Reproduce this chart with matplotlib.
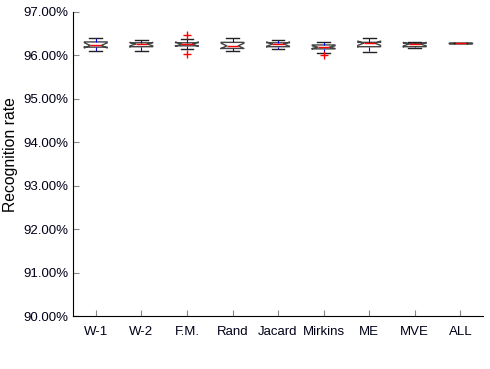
import matplotlib
matplotlib.use('Agg')
import matplotlib.pyplot as plt
from matplotlib.ticker import FuncFormatter

plt.rcParams['font.family'] = ['Liberation Sans', 'DejaVu Sans']

# per-method box statistics (recognition rate, %)
methods = ['W-1', 'W-2', 'F.M.', 'Rand', 'Jacard', 'Mirkins', 'ME', 'MVE', 'ALL']
whis_hi = [96.40, 96.36, 96.37, 96.39, 96.36, 96.30, 96.39, 96.30, 96.28]
q3 = [96.31, 96.29, 96.29, 96.30, 96.29, 96.24, 96.30, 96.28, 96.28]
medians = [96.23, 96.26, 96.26, 96.22, 96.26, 96.19, 96.28, 96.26, 96.28]
q1 = [96.19, 96.20, 96.22, 96.16, 96.20, 96.15, 96.20, 96.20, 96.28]
whis_lo = [96.10, 96.10, 96.15, 96.10, 96.14, 96.05, 96.07, 96.16, 96.28]
notch_lo = [96.17, 96.22, 96.21, 96.16, 96.21, 96.16, 96.23, 96.22, 96.28]
notch_hi = [96.29, 96.30, 96.31, 96.28, 96.31, 96.22, 96.33, 96.30, 96.28]
outliers = [[], [], [96.48, 96.03], [], [], [96.01], [], [], []]

stats = []
for i in range(len(methods)):
    stats.append(dict(label=methods[i], med=medians[i], q1=q1[i], q3=q3[i],
                      whislo=whis_lo[i], whishi=whis_hi[i],
                      cilo=notch_lo[i], cihi=notch_hi[i], fliers=outliers[i]))

fig = plt.figure(figsize=(4.9, 3.69), dpi=100)
ax = fig.add_axes([0.149, 0.1436, 0.837, 0.824])

ax.bxp(stats, positions=range(1, 10), widths=0.5, shownotches=True,
       boxprops=dict(color='#444444', linewidth=1.0),
       medianprops=dict(color='red', linewidth=1.0),
       whiskerprops=dict(color='blue', linestyle='--', linewidth=0.8),
       capprops=dict(color='#222222', linewidth=1.0),
       flierprops=dict(marker='+', markeredgecolor='red', markersize=6,
                       linestyle='none'),
       capwidths=0.28)

ax.set_xlim(0.5, 9.5)
ax.set_ylim(90, 97)
ax.set_yticks(range(90, 98))
ax.yaxis.set_major_formatter(FuncFormatter(lambda v, p: '%.2f%%' % v))
ax.set_ylabel('Recognition rate', fontsize=11.3)
ax.yaxis.set_label_coords(-0.135, 0.53)
ax.spines['top'].set_visible(False)
ax.spines['right'].set_visible(False)
ax.tick_params(direction='in', color='#888888', length=4, labelsize=9.5,
               labelcolor='#000018')
ax.tick_params(axis='x', pad=7)

fig.savefig('out.png', dpi=100)
